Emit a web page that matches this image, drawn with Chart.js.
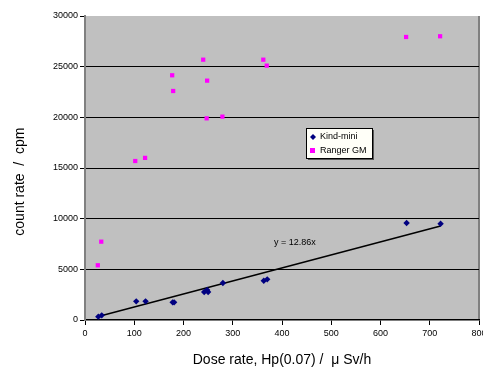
<!DOCTYPE html>
<html>
<head>
<meta charset="utf-8">
<script src="https://cdn.jsdelivr.net/npm/chart.js@4.4.1/dist/chart.umd.min.js"></script>
<style>
  html, body { margin: 0; padding: 0; background: #fff; overflow: hidden; }
  #wrap { position: absolute; left: 0; top: 0; width: 483px; height: 369px; }
</style>
</head>
<body>
<div id="wrap"><canvas id="grafico" width="483" height="369"></canvas></div>
<script>
// datos
const kindX = [27, 34, 104, 123, 178, 181, 242, 248, 250, 280, 363, 370, 653, 722];
const kindY = [330, 460, 1840, 1840, 1740, 1740, 2760, 2960, 2760, 3650, 3880, 4010, 9570, 9500];
const rangerX = [26, 33, 102, 122, 177, 179, 240, 248, 247, 279, 362, 369, 652, 721];
const rangerY = [5400, 7730, 15690, 16000, 24150, 22600, 25690, 23620, 19900, 20070, 25690, 25100, 27930, 28000];
const seriesNames = ["Kind-mini", "Ranger GM"];
const slope = 12.86;
const trendLabel = "y = 12.86x";
const trendLabelAt = [426, 7600];

const fuente = "'Liberation Sans', Arial, sans-serif";
const ctx = document.getElementById("grafico").getContext("2d");

const toPoints = (xs, ys) => xs.map((x, i) => ({ x: x, y: ys[i] }));
const xMin = Math.min(...kindX);
const xMax = Math.max(...kindX);
const trend = [
    { x: xMin, y: slope * xMin },
    { x: xMax, y: slope * xMax },
];

const fondoPlot = {
    id: "fondoPlot",
    beforeDraw: (chart) => {
        const { ctx, chartArea: a } = chart;
        ctx.save();
        ctx.fillStyle = "#c0c0c0";
        ctx.fillRect(a.left, a.top, a.right - a.left, a.bottom - a.top);
        ctx.strokeStyle = "#808080";
        ctx.lineWidth = 2;
        ctx.beginPath();
        ctx.moveTo(a.right, a.top);
        ctx.lineTo(a.right, a.bottom);
        ctx.stroke();
        ctx.restore();
    },
    afterDraw: (chart) => {
        const { ctx } = chart;
        const xs = chart.scales.x;
        const ys = chart.scales.y;
        ctx.save();
        // etiqueta de la tendencia
        ctx.font = "9px " + fuente;
        ctx.fillStyle = "#000";
        ctx.textAlign = "center";
        ctx.textBaseline = "middle";
        ctx.fillText(trendLabel, xs.getPixelForValue(trendLabelAt[0]), ys.getPixelForValue(trendLabelAt[1]));

        // leyenda
        const bx = 306, by = 128, bw = 66, bh = 30;
        ctx.fillStyle = "#555";
        ctx.fillRect(bx + 2, by + 2, bw, bh);
        ctx.fillStyle = "#fffff8";
        ctx.fillRect(bx, by, bw, bh);
        ctx.strokeStyle = "#000";
        ctx.lineWidth = 1;
        ctx.strokeRect(bx + 0.5, by + 0.5, bw, bh);
        ctx.textAlign = "left";
        ctx.fillStyle = "#000";
        ctx.fillText(seriesNames[0], bx + 14, by + 9);
        ctx.fillText(seriesNames[1], bx + 14, by + 23);
        ctx.fillStyle = "#000080";
        ctx.beginPath();
        ctx.moveTo(bx + 7, by + 6);
        ctx.lineTo(bx + 10, by + 9);
        ctx.lineTo(bx + 7, by + 12);
        ctx.lineTo(bx + 4, by + 9);
        ctx.closePath();
        ctx.fill();
        ctx.fillStyle = "#ff00ff";
        ctx.fillRect(bx + 4, by + 20, 5, 5);
        ctx.restore();
    },
};

new Chart(ctx, {
    type: "scatter",
    data: {
        datasets: [
            {
                label: "trend",
                type: "line",
                data: trend,
                borderColor: "#000",
                borderWidth: 1.5,
                pointRadius: 0,
                fill: false,
                order: 3,
            },
            {
                label: seriesNames[0],
                data: toPoints(kindX, kindY),
                pointStyle: "rectRot",
                pointRadius: 3.2,
                backgroundColor: "#000080",
                borderColor: "#000080",
                borderWidth: 0,
                order: 1,
            },
            {
                label: seriesNames[1],
                data: toPoints(rangerX, rangerY),
                pointStyle: "rect",
                pointRadius: 3,
                backgroundColor: "#ff00ff",
                borderColor: "#ff00ff",
                borderWidth: 0,
                order: 2,
            },
        ],
    },
    options: {
        responsive: false,
        animation: false,
        layout: { padding: { left: 0, right: 4, top: 16, bottom: 0 } },
        plugins: {
            legend: { display: false },
            tooltip: { enabled: false },
        },
        scales: {
            x: {
                type: "linear",
                min: 0,
                max: 800,
                afterFit: (s) => {
                    s.height = 49;
                    s.paddingLeft = 0;
                    s.paddingRight = 0;
                },
                ticks: {
                    stepSize: 100,
                    color: "#000",
                    padding: 3,
                    maxRotation: 0,
                    callback: (v) => String(v),
                    font: { family: fuente, size: 9 },
                },
                grid: {
                    drawOnChartArea: false,
                    tickLength: 5,
                    tickColor: "#000",
                },
                border: { color: "#000", width: 1.5 },
                title: {
                    display: true,
                    text: "Dose rate, Hp(0.07) /  μ Sv/h",
                    color: "#000",
                    font: { family: fuente, size: 14 },
                    padding: { top: 0, bottom: 0 },
                },
            },
            y: {
                type: "linear",
                min: 0,
                max: 30000,
                afterFit: (s) => {
                    s.width = 85;
                    s.paddingTop = 0;
                    s.paddingBottom = 0;
                },
                ticks: {
                    stepSize: 5000,
                    color: "#000",
                    padding: 2,
                    callback: (v) => String(v),
                    font: { family: fuente, size: 9 },
                },
                grid: {
                    color: (c) => (c.tick.value > 0 && c.tick.value < 30000 ? "#000" : "rgba(0,0,0,0)"),
                    lineWidth: 1,
                    tickLength: 5,
                    tickColor: "#000",
                },
                border: { color: "#808080", width: 2 },
                title: {
                    display: true,
                    text: "count rate  /  cpm       ",
                    color: "#000",
                    font: { family: fuente, size: 14 },
                    padding: { top: 12, bottom: 0 },
                },
            },
        },
    },
    plugins: [fondoPlot],
});
</script>
</body>
</html>
